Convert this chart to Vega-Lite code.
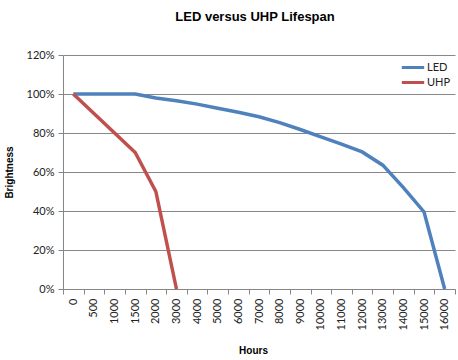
{
  "$schema": "https://vega.github.io/schema/vega-lite/v6.json",
  "width": 392,
  "height": 234,
  "autosize": "none",
  "padding": {"left": 63, "top": 55, "right": 3, "bottom": 71},
  "background": "white",
  "title": {"text": "LED versus UHP Lifespan", "font": "Liberation Sans", "fontSize": 13, "fontWeight": "bold", "color": "#000000", "offset": 25, "anchor": "middle", "dx": -4},
  "config": {"view": {"stroke": null}},
  "data": {"values": [
    {"hours": "0", "series": "LED", "b": 1.0},
    {"hours": "500", "series": "LED", "b": 1.0},
    {"hours": "1000", "series": "LED", "b": 1.0},
    {"hours": "1500", "series": "LED", "b": 1.0},
    {"hours": "2000", "series": "LED", "b": 0.98},
    {"hours": "3000", "series": "LED", "b": 0.965},
    {"hours": "4000", "series": "LED", "b": 0.948},
    {"hours": "5000", "series": "LED", "b": 0.927},
    {"hours": "6000", "series": "LED", "b": 0.906},
    {"hours": "7000", "series": "LED", "b": 0.883},
    {"hours": "8000", "series": "LED", "b": 0.853},
    {"hours": "9000", "series": "LED", "b": 0.818},
    {"hours": "10000", "series": "LED", "b": 0.78},
    {"hours": "11000", "series": "LED", "b": 0.743},
    {"hours": "12000", "series": "LED", "b": 0.703},
    {"hours": "13000", "series": "LED", "b": 0.635},
    {"hours": "14000", "series": "LED", "b": 0.52},
    {"hours": "15000", "series": "LED", "b": 0.395},
    {"hours": "16000", "series": "LED", "b": 0.0},
    {"hours": "0", "series": "UHP", "b": 1.0},
    {"hours": "500", "series": "UHP", "b": 0.9},
    {"hours": "1000", "series": "UHP", "b": 0.8},
    {"hours": "1500", "series": "UHP", "b": 0.7},
    {"hours": "2000", "series": "UHP", "b": 0.5},
    {"hours": "3000", "series": "UHP", "b": 0.0}
  ]},
  "mark": {"type": "line", "strokeWidth": 3.5},
  "encoding": {
    "x": {
      "field": "hours", "type": "ordinal",
      "sort": ["0","500","1000","1500","2000","3000","4000","5000","6000","7000","8000","9000","10000","11000","12000","13000","14000","15000","16000"],
      "scale": {"type": "band", "paddingInner": 0, "paddingOuter": 0},
      "bandPosition": 0.5,
      "axis": {
        "title": "Hours", "titleFont": "Liberation Sans", "titleFontSize": 10, "titleFontWeight": "bold", "titleColor": "#000000",
        "titleY": 61, "titleBaseline": "middle", "titleX": 190,
        "labelAngle": 270, "labelFont": "Lato", "labelFontSize": 11, "labelColor": "#222222", "labelPadding": 4,
        "tickBand": "extent", "tickColor": "#868686", "tickSize": 5, "domainColor": "#868686", "grid": false, "labelOverlap": false
      }
    },
    "y": {
      "field": "b", "type": "quantitative",
      "scale": {"domain": [0, 1.2]},
      "axis": {
        "title": "Brightness", "titleFont": "Liberation Sans", "titleFontSize": 10, "titleFontWeight": "bold", "titleColor": "#000000",
        "titleX": -54, "titleBaseline": "middle",
        "format": ".0%", "values": [0, 0.2, 0.4, 0.6, 0.8, 1.0, 1.2],
        "labelFont": "Lato", "labelFontSize": 11, "labelColor": "#222222", "labelPadding": 4,
        "tickColor": "#868686", "tickSize": 5, "domainColor": "#868686",
        "grid": true, "gridColor": "#878787", "gridWidth": 1
      }
    },
    "color": {
      "field": "series", "type": "nominal",
      "scale": {"domain": ["LED", "UHP"], "range": ["#4F81BD", "#C0504D"]},
      "legend": {
        "title": null, "orient": "none", "legendX": 337, "legendY": 5,
        "symbolType": "stroke", "symbolSize": 500, "symbolStrokeWidth": 3,
        "clipHeight": 15, "rowPadding": 0,
        "labelFont": "Lato", "labelFontSize": 11, "labelColor": "#222222", "labelOffset": 1
      }
    }
  }
}
